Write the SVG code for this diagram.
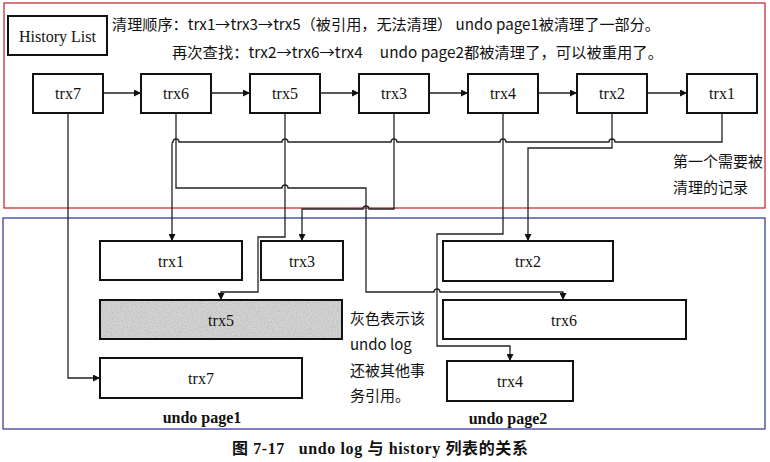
<svg xmlns="http://www.w3.org/2000/svg" width="770" height="462" viewBox="0 0 770 462">
<style>
.box{fill:#fff;stroke:#111;stroke-width:2}
.gray{fill:#d2d2d2;stroke:#111;stroke-width:2}
.lbl{font-family:"Liberation Serif","Times New Roman",serif;font-size:16px;fill:#111;text-anchor:middle;dominant-baseline:central}
.cn{font-family:"Noto Sans CJK SC","Noto Sans",sans-serif;font-size:15px;fill:#111;white-space:pre}
.ln{fill:none;stroke:#222;stroke-width:1.3}
.ar{fill:none;stroke:#222;stroke-width:1.3;marker-end:url(#ah)}
.cap{font-family:"Liberation Serif","Noto Sans CJK SC",serif;font-size:16px;font-weight:bold;fill:#111}
</style>
<defs>
<marker id="ah" viewBox="0 0 10 10" refX="10" refY="5" markerWidth="8" markerHeight="7" markerUnits="userSpaceOnUse" orient="auto">
<path d="M0,0 L10,5 L0,10 z" fill="#111"/>
</marker>
<filter id="noise" x="0" y="0" width="100%" height="100%">
<feTurbulence type="fractalNoise" baseFrequency="0.8" numOctaves="2" seed="3" result="n"/>
<feColorMatrix in="n" type="matrix" values="0 0 0 0 0.5  0 0 0 0 0.5  0 0 0 0 0.5  0 0 0 2.5 -1.1" result="g"/>
<feComposite in="g" in2="SourceGraphic" operator="atop"/>
</filter>
</defs>
<rect width="770" height="462" fill="#fff"/>
<rect x="4" y="3" width="761" height="205" fill="none" stroke="#c4303a" stroke-width="1.3"/>
<rect x="3" y="218" width="762" height="211" fill="none" stroke="#3a3f99" stroke-width="1.3"/>

<g id="history-list">
<rect class="box" x="8" y="16" width="99" height="39"/>
<text class="lbl" x="57.5" y="36" font-size="15">History List</text>
</g>
<g id="notes">
<text class="cn" x="112" y="30" textLength="548" lengthAdjust="spacingAndGlyphs">清理顺序：trx1→trx3→trx5（被引用，无法清理） undo page1被清理了一部分。</text>
<text class="cn" x="172" y="58" textLength="491" lengthAdjust="spacingAndGlyphs" xml:space="preserve">再次查找：trx2→trx6→trx4     undo page2都被清理了，可以被重用了。</text>
<text class="cn" x="673" y="167">第一个需要被</text>
<text class="cn" x="673" y="193">清理的记录</text>
<text class="cn" x="350" y="324">灰色表示该</text>
<text class="cn" x="350" y="350">undo log</text>
<text class="cn" x="350" y="376">还被其他事</text>
<text class="cn" x="350" y="401">务引用。</text>
</g>

<g id="top-trx7"><rect class="box" x="33" y="74" width="70" height="39"/><text class="lbl" x="68" y="93">trx7</text></g>
<g id="top-trx6"><rect class="box" x="141" y="74" width="70" height="39"/><text class="lbl" x="176" y="93">trx6</text></g>
<g id="top-trx5"><rect class="box" x="250" y="74" width="70" height="39"/><text class="lbl" x="285" y="93">trx5</text></g>
<g id="top-trx3"><rect class="box" x="359" y="74" width="70" height="39"/><text class="lbl" x="394" y="93">trx3</text></g>
<g id="top-trx4"><rect class="box" x="468" y="74" width="70" height="39"/><text class="lbl" x="503" y="93">trx4</text></g>
<g id="top-trx2"><rect class="box" x="577" y="74" width="70" height="39"/><text class="lbl" x="612" y="93">trx2</text></g>
<g id="top-trx1"><rect class="box" x="687" y="74" width="70" height="39"/><text class="lbl" x="722" y="93">trx1</text></g>

<g id="p1-trx1"><rect class="box" x="100" y="241" width="142" height="39"/><text class="lbl" x="171" y="261">trx1</text></g>
<g id="p1-trx3"><rect class="box" x="261" y="241" width="82" height="39"/><text class="lbl" x="302" y="261">trx3</text></g>
<g id="p1-trx5"><rect class="gray" x="100" y="300" width="242" height="39"/><rect x="101" y="301" width="240" height="37" fill="#d2d2d2" filter="url(#noise)"/><text class="lbl" x="221" y="320">trx5</text></g>
<g id="p1-trx7"><rect class="box" x="100" y="358" width="202" height="40"/><text class="lbl" x="201" y="378">trx7</text></g>
<g id="p2-trx2"><rect class="box" x="443" y="241" width="170" height="40"/><text class="lbl" x="528" y="261">trx2</text></g>
<g id="p2-trx6"><rect class="box" x="443" y="300" width="243" height="39"/><text class="lbl" x="564" y="320">trx6</text></g>
<g id="p2-trx4"><rect class="box" x="447" y="361" width="126" height="40"/><text class="lbl" x="510" y="381">trx4</text></g>

<g id="page-labels">
<text class="lbl" x="202" y="417" font-size="15" font-weight="bold">undo page1</text>
<text class="lbl" x="508" y="418" font-size="15" font-weight="bold">undo page2</text>
</g>

<g id="connectors">
<path class="ar" d="M103,93 H141"/>
<path class="ar" d="M211,93 H250"/>
<path class="ar" d="M320,93 H359"/>
<path class="ar" d="M429,93 H468"/>
<path class="ar" d="M538,93 H577"/>
<path class="ar" d="M647,93 H687"/>
<path class="ar" d="M68,113 V378 H100"/>
<path class="ar" d="M722,113 V142 H615 a3,3 0 0 0 -6,0 H506 a3,3 0 0 0 -6,0 H397 a3,3 0 0 0 -6,0 H288 a3,3 0 0 0 -6,0 H179 a3,3 0 0 0 -6,0 Q172,142 172,145 V241"/>
<path class="ar" d="M176,113 V188 H282 a3,3 0 0 1 6,0 H366 V292 H434 a3,3 0 0 1 6,0 H563 V300"/>
<path class="ar" d="M285,113 V237 H258 V292 H221 V300"/>
<path class="ar" d="M394,113 V209 H369 a3,3 0 0 0 -6,0 H302 V241"/>
<path class="ar" d="M503,113 V234 H437 V346 H510 V361"/>
<path class="ar" d="M612,113 V148 H528 V241"/>
</g>

<text class="cap" x="232" y="454" textLength="296" lengthAdjust="spacing" xml:space="preserve">图 7-17   undo log 与 history 列表的关系</text>
</svg>
